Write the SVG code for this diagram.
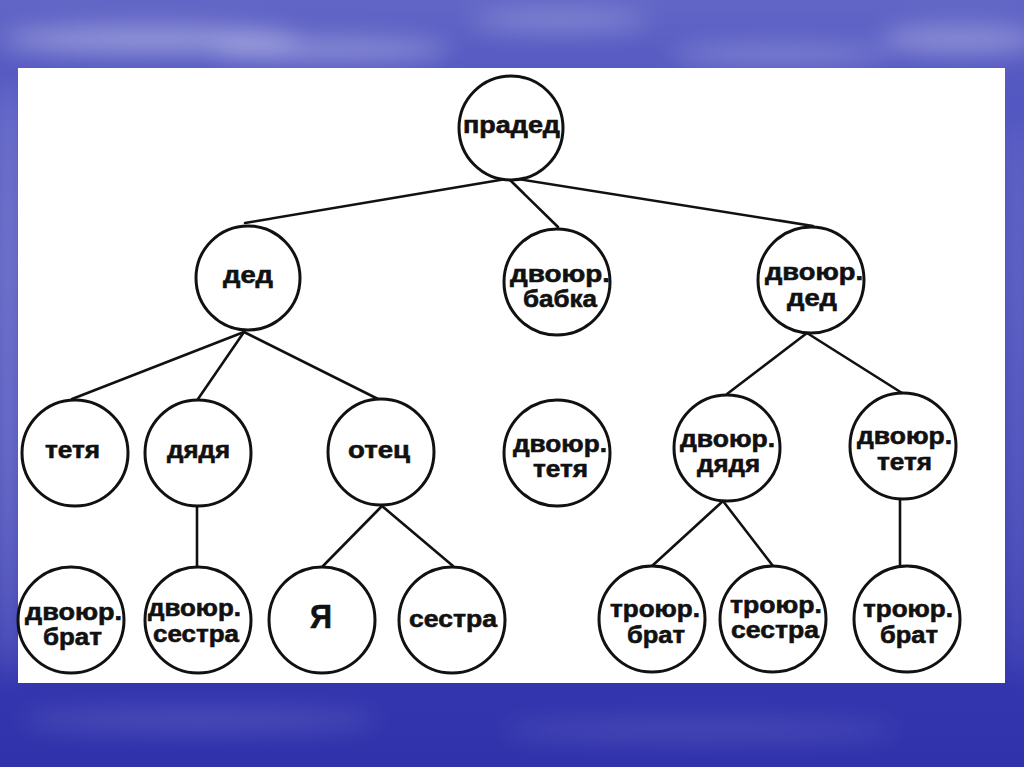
<svg xmlns="http://www.w3.org/2000/svg" width="1024" height="767" viewBox="0 0 1024 767">
<defs>
<linearGradient id="bg" x1="0" y1="0" x2="0" y2="1">
<stop offset="0" stop-color="#6266c6"/>
<stop offset="0.1" stop-color="#5559c2"/>
<stop offset="0.5" stop-color="#4044b8"/>
<stop offset="1" stop-color="#3032ac"/>
</linearGradient>
<filter id="blur" x="-50%" y="-50%" width="200%" height="200%"><feGaussianBlur stdDeviation="12"/></filter>
<style>
.n circle{fill:#fff;stroke:#111;stroke-width:3}
.n text{font-family:"Liberation Sans",Arial,sans-serif;font-weight:bold;font-size:24px;fill:#111;stroke:#111;stroke-width:0.6;text-anchor:start}
#edges line{stroke:#111;stroke-width:2.6;stroke-linecap:round}
</style>
</defs>
<rect width="1024" height="767" fill="url(#bg)"/>
<g filter="url(#blur)" fill="#ffffff">
<ellipse cx="150" cy="40" rx="150" ry="14" opacity="0.35"/>
<ellipse cx="330" cy="50" rx="120" ry="12" opacity="0.3"/>
<ellipse cx="560" cy="20" rx="90" ry="10" opacity="0.25"/>
<ellipse cx="780" cy="55" rx="110" ry="10" opacity="0.25"/>
<ellipse cx="960" cy="40" rx="80" ry="14" opacity="0.3"/>
<ellipse cx="8" cy="380" rx="10" ry="300" opacity="0.35"/>
<ellipse cx="1018" cy="400" rx="8" ry="280" opacity="0.25"/>
<ellipse cx="200" cy="720" rx="180" ry="10" opacity="0.15"/>
<ellipse cx="700" cy="730" rx="200" ry="10" opacity="0.12"/>
</g>
<rect x="18" y="68" width="987" height="615" fill="#ffffff"/>
<g id="edges">
<line x1="506" y1="179" x2="245" y2="223"/>
<line x1="510" y1="180" x2="558" y2="227"/>
<line x1="518" y1="179" x2="813" y2="226"/>
<line x1="244" y1="332" x2="72" y2="399"/>
<line x1="244" y1="332" x2="198" y2="399"/>
<line x1="244" y1="332" x2="380" y2="400"/>
<line x1="197" y1="506" x2="197" y2="567"/>
<line x1="382" y1="506" x2="323" y2="566"/>
<line x1="382" y1="506" x2="453" y2="566"/>
<line x1="807" y1="333" x2="727" y2="394"/>
<line x1="807" y1="333" x2="902" y2="393"/>
<line x1="723" y1="501" x2="652" y2="566"/>
<line x1="723" y1="501" x2="773" y2="566"/>
<line x1="900" y1="498" x2="900" y2="566"/>
</g>
<g id="praded" class="n"><circle cx="511" cy="128" r="52"/><text x="463" y="133" textLength="97" lengthAdjust="spacingAndGlyphs">прадед</text></g>
<g id="ded" class="n"><circle cx="248" cy="278" r="52"/><text x="223" y="283" textLength="50" lengthAdjust="spacingAndGlyphs">дед</text></g>
<g id="dv-babka" class="n"><circle cx="557" cy="282" r="53"/><text x="510" y="282" textLength="100" lengthAdjust="spacingAndGlyphs">двоюр.</text><text x="523" y="307" textLength="74" lengthAdjust="spacingAndGlyphs">бабка</text></g>
<g id="dv-ded" class="n"><circle cx="811" cy="280" r="53"/><text x="765" y="280" textLength="98" lengthAdjust="spacingAndGlyphs">двоюр.</text><text x="787" y="306" textLength="50" lengthAdjust="spacingAndGlyphs">дед</text></g>
<g id="tetya" class="n"><circle cx="75" cy="453" r="53"/><text x="45" y="458" textLength="55" lengthAdjust="spacingAndGlyphs">тетя</text></g>
<g id="dyadya" class="n"><circle cx="198" cy="453" r="53"/><text x="167" y="458" textLength="63" lengthAdjust="spacingAndGlyphs">дядя</text></g>
<g id="otec" class="n"><circle cx="381" cy="452" r="53"/><text x="348" y="458" textLength="62" lengthAdjust="spacingAndGlyphs">отец</text></g>
<g id="dv-tetya1" class="n"><circle cx="557" cy="453" r="53"/><text x="513" y="452" textLength="94" lengthAdjust="spacingAndGlyphs">двоюр.</text><text x="533" y="477" textLength="55" lengthAdjust="spacingAndGlyphs">тетя</text></g>
<g id="dv-dyadya" class="n"><circle cx="727" cy="448" r="53"/><text x="680" y="447" textLength="95" lengthAdjust="spacingAndGlyphs">двоюр.</text><text x="697" y="472" textLength="63" lengthAdjust="spacingAndGlyphs">дядя</text></g>
<g id="dv-tetya2" class="n"><circle cx="903" cy="446" r="53"/><text x="857" y="444" textLength="95" lengthAdjust="spacingAndGlyphs">двоюр.</text><text x="877" y="470" textLength="55" lengthAdjust="spacingAndGlyphs">тетя</text></g>
<g id="dv-brat" class="n"><circle cx="71" cy="620" r="53"/><text x="25" y="620" textLength="97" lengthAdjust="spacingAndGlyphs">двоюр.</text><text x="43" y="645" textLength="59" lengthAdjust="spacingAndGlyphs">брат</text></g>
<g id="dv-sestra" class="n"><circle cx="198" cy="620" r="53"/><text x="148" y="616" textLength="93" lengthAdjust="spacingAndGlyphs">двоюр.</text><text x="153" y="642" textLength="86" lengthAdjust="spacingAndGlyphs">сестра</text></g>
<g id="ya" class="n"><circle cx="322" cy="620" r="53"/><text x="310" y="628" textLength="22" lengthAdjust="spacingAndGlyphs" style="font-size:34px">Я</text></g>
<g id="sestra" class="n"><circle cx="452" cy="620" r="53"/><text x="409" y="627" textLength="88" lengthAdjust="spacingAndGlyphs">сестра</text></g>
<g id="tr-brat1" class="n"><circle cx="652" cy="619" r="53"/><text x="610" y="617" textLength="90" lengthAdjust="spacingAndGlyphs">троюр.</text><text x="627" y="643" textLength="58" lengthAdjust="spacingAndGlyphs">брат</text></g>
<g id="tr-sestra" class="n"><circle cx="773" cy="619" r="53"/><text x="730" y="613" textLength="92" lengthAdjust="spacingAndGlyphs">троюр.</text><text x="731" y="638" textLength="88" lengthAdjust="spacingAndGlyphs">сестра</text></g>
<g id="tr-brat2" class="n"><circle cx="907" cy="619" r="53"/><text x="863" y="617" textLength="90" lengthAdjust="spacingAndGlyphs">троюр.</text><text x="880" y="643" textLength="58" lengthAdjust="spacingAndGlyphs">брат</text></g>
</svg>
